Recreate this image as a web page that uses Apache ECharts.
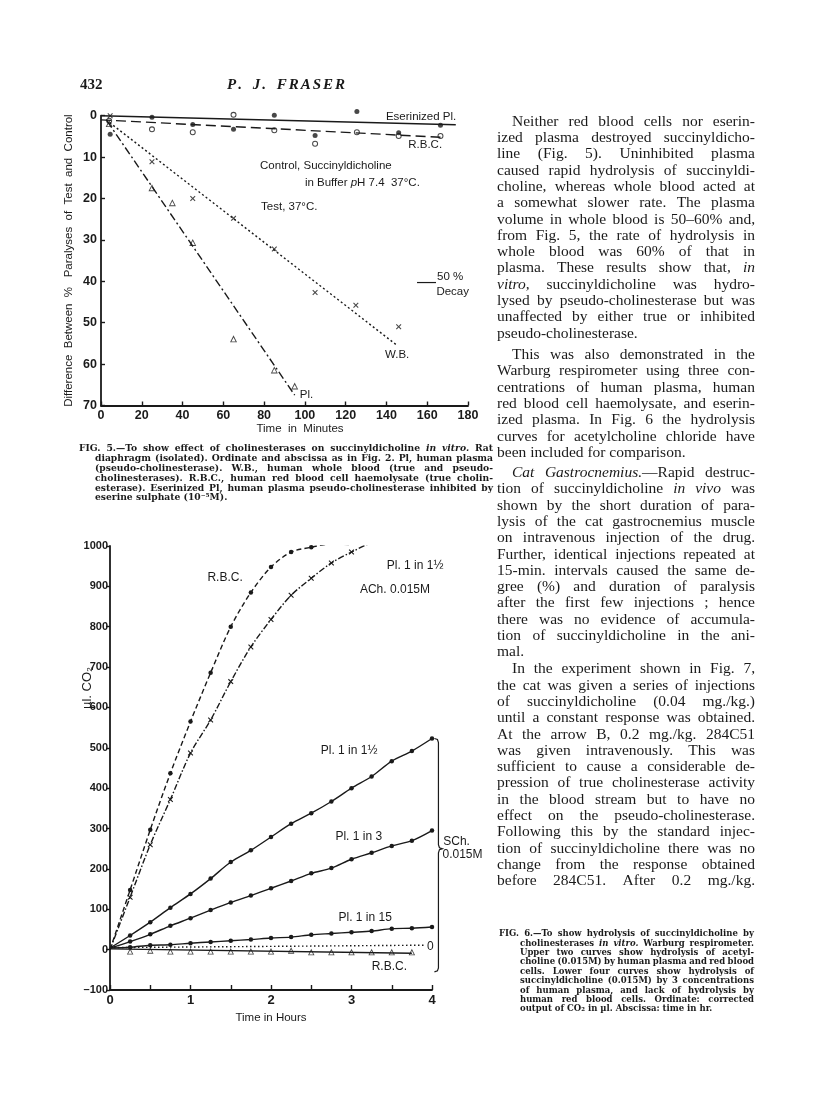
<!DOCTYPE html>
<html>
<head>
<meta charset="utf-8">
<script src="https://cdn.jsdelivr.net/npm/echarts@6/dist/echarts.min.js"></script>
<style>
  html, body { margin: 0; padding: 0; background: #fff; }
  #page { width: 816px; height: 1114px; }
</style>
</head>
<body>
<div id="page"></div>
<script>
const INK = '#1a1a1a'
const SANS = '"Liberation Sans", Arial, sans-serif'
const SERIF = '"Liberation Serif", "Times New Roman", serif'
const CAPFONT = '"DejaVu Serif", serif'

// ---------- Fig. 5 : time (min) vs % difference ----------
const fig5XTicks = [0, 20, 40, 60, 80, 100, 120, 140, 160, 180]
const fig5YTicks = [0, 10, 20, 30, 40, 50, 60, 70]

const eserPlPts = [[4.5, 4.5], [25, 0.4], [45, 2.1], [65, 3.3], [85, -0.1], [105, 4.8], [125.5, -1], [146, 4.1], [166.5, 2.3]]
const eserPlFit = [[0, 0], [174, 2.2]]
const rbc5Pts = [[4, 1.2], [25, 3.3], [45, 4.0], [65, -0.2], [85, 3.5], [105, 6.8], [125.5, 4.0], [146, 4.9], [166.5, 4.9]]
const rbc5Fit = [[0, 1], [166.5, 5.2]]
const wb5Pts = [[4.5, 0], [25, 11.1], [45, 20], [65, 24.8], [85, 32.2], [105, 42.7], [125, 45.8], [146, 51]]
const wb5Fit = [[2.5, 1], [145, 55.4]]
const pl5Pts = [[4, 1.9], [25, 17.4], [35, 21], [45, 30.6], [65, 53.9], [85, 61.4], [95, 65.3]]
const pl5Fit = [[3, 1.3], [95, 67.5]]

// ---------- Fig. 6 : time (hr) vs µl CO2 ----------
const fig6XTicks = [0, 1, 2, 3, 4]
const fig6YTicks = [-100, 0, 100, 200, 300, 400, 500, 600, 700, 800, 900, 1000]
const hours = [0.25, 0.5, 0.75, 1, 1.25, 1.5, 1.75, 2, 2.25, 2.5, 2.75, 3, 3.25, 3.5, 3.75, 4]

const achRbc = [148, 297, 437, 565, 686, 800, 885, 948, 985, 997, 1005, 1003]
const achPl = [130, 260, 372, 487, 569, 664, 750, 818, 878, 920, 958, 985, 1008, 1020, 1030]
const schPl1half = [35, 68, 104, 138, 176, 217, 246, 279, 312, 338, 367, 400, 429, 467, 492, 523]
const schPl3 = [20, 38, 59, 78, 98, 117, 134, 152, 170, 189, 202, 224, 240, 257, 270, 295]
const schPl15 = [6, 11, 12, 16, 19, 22, 25, 29, 31, 37, 40, 43, 46, 52, 53, 56]
const schRbc = [-4, -2, -4, -4, -4, -4, -4, -4, -2, -6, -6, -6, -6, -6, -6]
const schRbcFit = [[0, 2], [3.75, -9]]
const eserLine = [[0, 5], [3.9, 11]]

// symbols
const SYM_X = 'path://M0,1.4L1.4,0L5,3.6L8.6,0L10,1.4L6.4,5L10,8.6L8.6,10L5,6.4L1.4,10L0,8.6L3.6,5Z'
const SYM_RING = 'path://M5,0A5,5 0 1,0 5,10A5,5 0 1,0 5,0ZM5,1.7A3.3,3.3 0 1,1 5,8.3A3.3,3.3 0 1,1 5,1.7Z'
const SYM_TRI = 'path://M5,0L10,9L0,9ZM5,2.8L2,7.8L8,7.8Z'

function curve(vals, start) {
  return [{ value: [0, start], symbol: 'none' }].concat(vals.map((v, i) => [hours[i], v]))
}

const chart = echarts.init(document.getElementById('page'))

function fitLine(data, type, xi) {
  return {
    type: 'line', data: data, xAxisIndex: xi, yAxisIndex: xi,
    symbol: 'none', silent: true,
    lineStyle: { color: INK, width: 1.4, type: type }
  }
}
function pts(data, symbol, size, xi) {
  return {
    type: 'scatter', data: data, xAxisIndex: xi, yAxisIndex: xi, clip: false,
    symbol: symbol, symbolSize: size, silent: true,
    itemStyle: { color: INK }
  }
}
function lineWithPts(data, type, symbol, size) {
  return {
    type: 'line', data: data, xAxisIndex: 1, yAxisIndex: 1,
    symbol: symbol, symbolSize: size, showSymbol: true, smooth: 0.3, silent: true,
    itemStyle: { color: INK },
    lineStyle: { color: INK, width: 1.4, type: type }
  }
}

const axisBase = {
  axisLine: { onZero: false, lineStyle: { color: INK, width: 1.8 } },
  splitLine: { show: false }
}

const option = {
  animation: false,
  backgroundColor: '#fff',
  grid: [
    { left: 101, top: 115.7, width: 367, height: 289.8 },
    { left: 110, top: 546, width: 322, height: 444 }
  ],
  xAxis: [
    Object.assign({}, axisBase, {
      type: 'value', gridIndex: 0,
      min: fig5XTicks[0], max: fig5XTicks[fig5XTicks.length - 1], interval: fig5XTicks[1] - fig5XTicks[0],
      axisTick: { inside: true, length: 4, lineStyle: { color: INK, width: 1.4 } },
      axisLabel: { margin: 4, color: INK, fontFamily: SANS, fontWeight: 'bold', fontSize: 12.5 }
    }),
    Object.assign({}, axisBase, {
      type: 'value', gridIndex: 1,
      min: fig6XTicks[0], max: fig6XTicks[fig6XTicks.length - 1], interval: 0.5,
      axisTick: { inside: true, length: 5, lineStyle: { color: INK, width: 1.4 } },
      axisLabel: {
        margin: 4, color: INK, fontFamily: SANS, fontWeight: 'bold', fontSize: 13,
        formatter: v => fig6XTicks.indexOf(v) >= 0 ? String(v) : ''
      },
      name: 'Time in Hours', nameLocation: 'middle', nameGap: 22,
      nameTextStyle: { color: INK, fontFamily: SANS, fontSize: 11.5 }
    })
  ],
  yAxis: [
    Object.assign({}, axisBase, {
      type: 'value', gridIndex: 0, inverse: true,
      min: fig5YTicks[0], max: fig5YTicks[fig5YTicks.length - 1], interval: fig5YTicks[1] - fig5YTicks[0],
      axisTick: { inside: true, length: 4, lineStyle: { color: INK, width: 1.4 } },
      axisLabel: { margin: 4, color: INK, fontFamily: SANS, fontWeight: 'bold', fontSize: 12.5 },
      name: 'Difference  Between  %   Paralyses  of  Test  and  Control',
      nameLocation: 'middle', nameRotate: 90, nameGap: 26,
      nameTextStyle: { color: INK, fontFamily: SANS, fontSize: 11.5 }
    }),
    Object.assign({}, axisBase, {
      type: 'value', gridIndex: 1,
      min: fig6YTicks[0], max: fig6YTicks[fig6YTicks.length - 1], interval: fig6YTicks[1] - fig6YTicks[0],
      axisTick: { inside: false, length: 4, lineStyle: { color: INK, width: 1.4 } },
      axisLabel: {
        margin: 2, color: INK, fontFamily: SANS, fontWeight: 'bold', fontSize: 11,
        formatter: v => v < 0 ? '\u2013' + (-v) : String(v)
      }
    })
  ],
  series: [
    // Fig. 5
    fitLine(eserPlFit, 'solid', 0),
    pts(eserPlPts, 'circle', 5, 0),
    fitLine(rbc5Fit, [10, 5], 0),
    pts(rbc5Pts, SYM_RING, 6, 0),
    fitLine(wb5Fit, [2, 2.5], 0),
    pts(wb5Pts, SYM_X, 5.5, 0),
    fitLine(pl5Fit, [8, 3, 2, 3], 0),
    pts(pl5Pts, SYM_TRI, 7, 0),
    // Fig. 6
    lineWithPts(curve(achRbc, 0), [5, 3], 'circle', 4.5),
    lineWithPts(curve(achPl, 0), [6, 2, 1.5, 2], SYM_X, 5.5),
    lineWithPts(curve(schPl1half, 4), 'solid', 'circle', 4.5),
    lineWithPts(curve(schPl3, 4), 'solid', 'circle', 4.5),
    lineWithPts(curve(schPl15, 4), 'solid', 'circle', 4.5),
    fitLine(eserLine, [1.5, 2.5], 1),
    fitLine(schRbcFit, 'solid', 1),
    pts(schRbc.map((v, i) => [hours[i], v]), SYM_TRI, 6.5, 1)
  ]
}
chart.setOption(option)

// ---------- text helpers ----------
const ctx = document.createElement('canvas').getContext('2d')
function fontOf(size, bold, italic, fam) {
  return (italic ? 'italic ' : '') + (bold ? 'bold ' : '') + size + 'px ' + (fam || SERIF)
}
function measure(t, f) { ctx.font = f; return ctx.measureText(t).width }

function txt(x, y, text, size, opts) {
  opts = opts || {}
  return {
    type: 'text', x: x, y: y, silent: true, rotation: opts.rot || 0,
    style: {
      text: text, fill: INK,
      font: fontOf(size, opts.bold, opts.italic, opts.fam || SANS),
      textAlign: opts.align || 'left', align: opts.align || 'left',
      textVerticalAlign: 'middle', verticalAlign: 'middle',
      rich: opts.rich
    }
  }
}

// '>' = indented line, '|' at end = not justified, _word_ = italic, +word = no space before
function parse(raw, o, size) {
  let s = raw, x0 = o.x0, last = false
  if (s[0] === '>') { s = s.slice(1); x0 += o.indent }
  if (s.slice(-1) === '|') { s = s.slice(0, -1); last = true }
  const fam = o.fam || SERIF
  const toks = s.split(/ +/).filter(Boolean).map(w => {
    let glue = false, it = false
    if (w[0] === '+') { glue = true; w = w.slice(1) }
    if (w.length > 2 && w[0] === '_' && w[w.length - 1] === '_') { it = true; w = w.slice(1, -1) }
    const f = fontOf(size, o.bold, it, fam)
    return { t: w, f: f, w: measure(w, f), glue: glue }
  })
  const sum = toks.reduce((a, b) => a + b.w, 0)
  const gaps = toks.filter((t, k) => k > 0 && !t.glue).length
  const sp = measure(' ', fontOf(size, o.bold, false, fam))
  return { x0: x0, last: last, toks: toks, sum: sum, gaps: gaps, sp: sp }
}
function justify(lines, o) {
  // shrink the type until every line fits with at least ~0.8 of a normal space
  let size = o.size
  while (size > 6 && lines.some(r => { const p = parse(r, o, size); return p.sum + p.gaps * p.sp * 0.8 > o.x1 - p.x0 })) size -= 0.1
  const els = []
  lines.forEach((raw, i) => {
    const p = parse(raw, o, size)
    const gap = (p.last || p.gaps === 0) ? p.sp : (o.x1 - p.x0 - p.sum) / p.gaps
    let x = p.x0
    const y = o.y0 + i * o.lh
    p.toks.forEach((t, k) => {
      if (k > 0 && !t.glue) x += gap
      els.push({
        type: 'text', x: x, y: y, silent: true,
        style: { text: t.t, font: t.f, fill: INK, textVerticalAlign: 'middle', verticalAlign: 'middle' }
      })
      x += t.w
    })
  })
  return els
}

const para1 = [
  '>Neither red blood cells nor eserin-',
  'ized plasma destroyed succinyldicho-',
  'line (Fig. 5). Uninhibited plasma',
  'caused rapid hydrolysis of succinyldi-',
  'choline, whereas whole blood acted at',
  'a somewhat slower rate. The plasma',
  'volume in whole blood is 50\u201360% and,',
  'from Fig. 5, the rate of hydrolysis in',
  'whole blood was 60% of that in',
  'plasma. These results show that, _in_',
  '_vitro,_ succinyldicholine was hydro-',
  'lysed by pseudo-cholinesterase but was',
  'unaffected by either true or inhibited',
  'pseudo-cholinesterase.|'
]
const para2 = [
  '>This was also demonstrated in the',
  'Warburg respirometer using three con-',
  'centrations of human plasma, human',
  'red blood cell haemolysate, and eserin-',
  'ized plasma. In Fig. 6 the hydrolysis',
  'curves for acetylcholine chloride have',
  'been included for comparison.|'
]
const para3 = [
  '>_Cat_ _Gastrocnemius._ +\u2014Rapid destruc-',
  'tion of succinyldicholine _in_ _vivo_ was',
  'shown by the short duration of para-',
  'lysis of the cat gastrocnemius muscle',
  'on intravenous injection of the drug.',
  'Further, identical injections repeated at',
  '15-min. intervals caused the same de-',
  'gree (%) and duration of paralysis',
  'after the first few injections ; hence',
  'there was no evidence of accumula-',
  'tion of succinyldicholine in the ani-',
  'mal.|'
]
const para4 = [
  '>In the experiment shown in Fig. 7,',
  'the cat was given a series of injections',
  'of succinyldicholine (0.04 mg./kg.)',
  'until a constant response was obtained.',
  'At the arrow B, 0.2 mg./kg. 284C51',
  'was given intravenously. This was',
  'sufficient to cause a considerable de-',
  'pression of true cholinesterase activity',
  'in the blood stream but to have no',
  'effect on the pseudo-cholinesterase.',
  'Following this by the standard injec-',
  'tion of succinyldicholine there was no',
  'change from the response obtained',
  'before 284C51. After 0.2 mg./kg.'
]
const cap5 = [
  'FIG. 5.\u2014To show effect of cholinesterases on succinyldicholine _in_ _vitro._ Rat',
  '>diaphragm (isolated). Ordinate and abscissa as in Fig. 2. Pl, human plasma',
  '>(pseudo-cholinesterase). W.B., human whole blood (true and pseudo-',
  '>cholinesterases). R.B.C., human red blood cell haemolysate (true cholin-',
  '>esterase). Eserinized Pl, human plasma pseudo-cholinesterase inhibited by',
  '>eserine sulphate (10\u207B\u2075M).|'
]
const cap6 = [
  'FIG. 6.\u2014To show hydrolysis of succinyldicholine by',
  '>cholinesterases _in_ _vitro._ Warburg respirometer.',
  '>Upper two curves show hydrolysis of acetyl-',
  '>choline (0.015M) by human plasma and red blood',
  '>cells. Lower four curves show hydrolysis of',
  '>succinyldicholine (0.015M) by 3 concentrations',
  '>of human plasma, and lack of hydrolysis by',
  '>human red blood cells. Ordinate: corrected',
  '>output of CO\u2082 in \u00B5l. Abscissa: time in hr.|'
]

const body = { x0: 497, x1: 755, size: 15.5, lh: 16.3, indent: 15 }
let g = []
g = g.concat(justify(para1, Object.assign({}, body, { y0: 121.7 })))
g = g.concat(justify(para2, Object.assign({}, body, { y0: 355 })))
g = g.concat(justify(para3, Object.assign({}, body, { y0: 473 })))
g = g.concat(justify(para4, Object.assign({}, body, { y0: 669.3 })))
g = g.concat(justify(cap5, { x0: 79, x1: 493, y0: 449, lh: 9.8, size: 9.2, bold: true, indent: 16, fam: CAPFONT }))
g = g.concat(justify(cap6, { x0: 499, x1: 754, y0: 934, lh: 9.4, size: 9.2, bold: true, indent: 21, fam: CAPFONT }))

// running head
g.push(txt(80, 85, '432', 15, { bold: true, fam: SERIF }))
let hx = 227
const headFont = fontOf(15, true, true, SERIF)
'P. J. FRASER'.split('').forEach(ch => {
  g.push({ type: 'text', x: hx, y: 85, silent: true, style: { text: ch, font: headFont, fill: INK, textVerticalAlign: 'middle', verticalAlign: 'middle' } })
  hx += measure(ch, headFont) + (ch === ' ' ? 5 : 2)
})

// ---------- chart annotations (placed in data space) ----------
const p0 = (x, y) => chart.convertToPixel({ gridIndex: 0 }, [x, y])
const p1 = (x, y) => chart.convertToPixel({ gridIndex: 1 }, [x, y])

const notes5 = [
  ['Eserinized Pl.', 157, 0.3, 'center'],
  ['R.B.C.', 159, 7.1, 'center'],
  ['Control, Succinyldicholine', 78, 12.2, 'left'],
  ['Test, 37\u00B0C.', 78.5, 22, 'left'],
  ['50 %', 164.8, 39, 'left'],
  ['Decay', 164.5, 42.5, 'left'],
  ['W.B.', 139.3, 57.8, 'left'],
  ['Pl.', 97.5, 67.5, 'left']
]
notes5.forEach(n => {
  const p = p0(n[1], n[2])
  g.push(txt(p[0], p[1], n[0], 11.5, { align: n[3] }))
})
const pb = p0(100, 16.3)
g.push(txt(pb[0], pb[1], '{n|in Buffer }{i|p}{n|H 7.4  37\u00B0C.}', 11.5, {
  rich: {
    n: { font: fontOf(11.5, false, false, SANS), fill: INK },
    i: { font: fontOf(11.5, false, true, SANS), fill: INK }
  }
}))
const da = p0(155, 40.3), db = p0(164.3, 40.3)
g.push({ type: 'line', silent: true, shape: { x1: da[0], y1: da[1], x2: db[0], y2: db[1] }, style: { stroke: INK, lineWidth: 1.2 } })

g.push(txt(300, 429, 'Time  in  Minutes', 11.5, { align: 'center' }))

const notes6 = [
  ['R.B.C.', 1.43, 921, 'center'],
  ['Pl. 1 in 1\u00BD', 3.79, 950, 'center'],
  ['ACh. 0.015M', 3.54, 893, 'center'],
  ['Pl. 1 in 1\u00BD', 2.97, 492, 'center'],
  ['Pl. 1 in 3', 3.09, 279, 'center'],
  ['Pl. 1 in 15', 3.17, 79, 'center'],
  ['0', 3.98, 6.5, 'center'],
  ['R.B.C.', 3.47, -42, 'center'],
  ['SCh.', 4.14, 267, 'left'],
  ['0.015M', 4.13, 234, 'left']
]
notes6.forEach(n => {
  const p = p1(n[1], n[2])
  g.push(txt(p[0], p[1], n[0], 12, { align: n[3] }))
})
g.push(txt(87, 688, '\u00B5l. CO\u2082', 13, { align: 'center', rot: Math.PI / 2 }))

// brace grouping the succinylcholine curves
const bt = p1(4.08, 523), bm = p1(4.08, 250), bb = p1(4.08, -55)
const bx = bt[0]
g.push({
  type: 'polyline', silent: true,
  shape: {
    points: [
      [bx - 4, bt[1]], [bx - 1, bt[1] + 1], [bx, bt[1] + 4],
      [bx, bm[1] - 4], [bx + 1, bm[1] - 1], [bx + 4, bm[1]], [bx + 1, bm[1] + 1], [bx, bm[1] + 4],
      [bx, bb[1] - 4], [bx - 1, bb[1] - 1], [bx - 4, bb[1]]
    ]
  },
  style: { stroke: INK, lineWidth: 1.2, fill: null }
})

chart.setOption({ graphic: g })
</script>
</body>
</html>
